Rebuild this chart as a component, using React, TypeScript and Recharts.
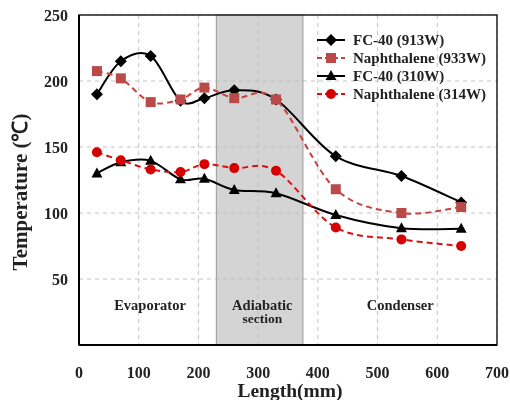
import {
  LineChart,
  Line,
  XAxis,
  YAxis,
  CartesianGrid,
  ReferenceArea,
  ReferenceDot,
  Legend,
  Label,
} from "recharts";

// measurement stations along the pipe (mm)
const positions = [30, 70, 120, 170, 210, 260, 330, 430, 540, 640];

// wall temperatures (°C)
const fc40High = [190, 215, 219, 185, 187, 193, 186, 143, 128, 108];
const naph933 = [207.5, 202, 184, 186, 195, 187, 186, 118, 100, 104.5];
const fc40Low = [130, 138.5, 139.5, 125.5, 126, 117.5, 115, 98.5, 88.5, 88];
const naph314 = [146, 140, 133, 131, 137, 134, 132, 89, 80, 75];

const xTicks = [0, 100, 200, 300, 400, 500, 600, 700];
const yTicks = [50, 100, 150, 200, 250];

const adiabaticStart = 230;
const adiabaticEnd = 375;

const sections = [
  { x: 119, y: 30, lines: ["Evaporator"] },
  { x: 307, y: 30, lines: ["Adiabatic", "section"] },
  { x: 538, y: 30, lines: ["Condenser"] },
];

const data = positions.map((x, i) => ({
  x,
  fc40High: fc40High[i],
  naph933: naph933[i],
  fc40Low: fc40Low[i],
  naph314: naph314[i],
}));

type Marker = "diamond" | "square" | "triangle" | "circle";

const SERIES: {
  key: string;
  name: string;
  stroke: string;
  fill: string;
  dash?: string;
  marker: Marker;
}[] = [
  { key: "fc40High", name: "FC-40 (913W)", stroke: "#000", fill: "#000", marker: "diamond" },
  { key: "naph933", name: "Naphthalene (933W)", stroke: "#c8413f", fill: "#b94a48", dash: "6 4", marker: "square" },
  { key: "fc40Low", name: "FC-40 (310W)", stroke: "#000", fill: "#000", marker: "triangle" },
  { key: "naph314", name: "Naphthalene (314W)", stroke: "#d81010", fill: "#d50000", dash: "6 4", marker: "circle" },
];

const FONT = "Liberation Serif";

// Catmull-Rom style smoothing, close to what spreadsheet "smoothed lines" give
function smoothCurve(context: any) {
  let xs: number[] = [];
  let ys: number[] = [];
  return {
    areaStart() {},
    areaEnd() {},
    lineStart() {
      xs = [];
      ys = [];
    },
    lineEnd() {
      const n = xs.length;
      if (!n) return;
      context.moveTo(xs[0], ys[0]);
      for (let i = 0; i < n - 1; i++) {
        const a = Math.max(i - 1, 0);
        const d = Math.min(i + 2, n - 1);
        context.bezierCurveTo(
          xs[i] + (xs[i + 1] - xs[a]) / 6,
          ys[i] + (ys[i + 1] - ys[a]) / 6,
          xs[i + 1] - (xs[d] - xs[i]) / 6,
          ys[i + 1] - (ys[d] - ys[i]) / 6,
          xs[i + 1],
          ys[i + 1]
        );
      }
    },
    point(x: number, y: number) {
      xs.push(+x);
      ys.push(+y);
    },
  };
}

function MarkerShape({ cx, cy, marker, fill }: { cx: number; cy: number; marker: Marker; fill: string }) {
  if (marker === "diamond") {
    const r = 6;
    return <polygon points={`${cx},${cy - r} ${cx + r},${cy} ${cx},${cy + r} ${cx - r},${cy}`} fill={fill} />;
  }
  if (marker === "square") {
    return <rect x={cx - 5} y={cy - 5} width={10} height={10} fill={fill} />;
  }
  if (marker === "triangle") {
    return <polygon points={`${cx},${cy - 6} ${cx + 5.5},${cy + 4} ${cx - 5.5},${cy + 4}`} fill={fill} />;
  }
  return <circle cx={cx} cy={cy} r={5} fill={fill} />;
}

function makeDot(marker: Marker, fill: string) {
  return (props: any) => {
    const { cx, cy, index } = props;
    if (cx == null || cy == null) return <g key={index} />;
    return <MarkerShape key={index} cx={cx} cy={cy} marker={marker} fill={fill} />;
  };
}

const textStyle = { fontFamily: FONT, fontWeight: 700 };

function XTick(props: any) {
  const { x, y, payload } = props;
  return (
    <text x={x} y={y} textAnchor="middle" dominantBaseline="central" style={textStyle} fontSize={16} fill="#222">
      {payload.value}
    </text>
  );
}

function YTick(props: any) {
  const { x, y, payload } = props;
  return (
    <text x={x} y={y} textAnchor="end" dominantBaseline="central" style={textStyle} fontSize={16} fill="#222">
      {payload.value}
    </text>
  );
}

// first line sits on the anchor point, further lines stack below it
function SectionLabel(lines: string[]) {
  return (props: any) => {
    const { viewBox } = props;
    const cx = viewBox.x + (viewBox.width ?? 0) / 2;
    const cy = viewBox.y + (viewBox.height ?? 0) / 2;
    const step = 12.5;
    return (
      <text textAnchor="middle" dominantBaseline="central" style={textStyle} fontSize={14.5} fill="#222">
        {lines.map((t, i) => (
          <tspan key={t} x={cx} y={cy + i * step} fontSize={i > 0 ? 13.5 : 14.5}>
            {t}
          </tspan>
        ))}
      </text>
    );
  };
}

function LegendBox() {
  return (
    <div style={{ fontFamily: FONT, fontWeight: 700, fontSize: 15, color: "#222" }}>
      {SERIES.map((s) => (
        <div key={s.key} style={{ display: "flex", alignItems: "center", height: 18 }}>
          <svg width={30} height={14} style={{ marginRight: 7 }}>
            <line x1={1} y1={7} x2={29} y2={7} stroke={s.stroke} strokeWidth={2} strokeDasharray={s.dash ? "5 3" : undefined} />
            <MarkerShape cx={15} cy={7} marker={s.marker} fill={s.fill} />
          </svg>
          <span>{s.name}</span>
        </div>
      ))}
    </div>
  );
}

export default function App() {
  return (
    <div style={{ position: "fixed", left: 8, top: 8 }}>
      <LineChart
        width={502}
        height={392}
        data={data}
        margin={{ top: 7, right: 13, bottom: 0, left: 0 }}
      >
        <ReferenceArea
          x1={adiabaticStart}
          x2={adiabaticEnd}
          y1={0}
          y2={250}
          fill="#b8b8b8"
          fillOpacity={0.6}
          stroke="#9a9a9a"
          strokeWidth={1}
          ifOverflow="visible"
        />
        <CartesianGrid strokeDasharray="4 4" stroke="#c4c4c4" strokeWidth={1} />
        <XAxis
          dataKey="x"
          type="number"
          domain={[0, 700]}
          ticks={xTicks}
          interval={0}
          height={55}
          axisLine={{ stroke: "#000", strokeWidth: 2 }}
          tickLine={false}
          tickSize={0}
          tickMargin={27}
          tick={<XTick />}
        >
          <Label
            content={() => (
              <text x={282} y={382} textAnchor="middle" dominantBaseline="central" style={textStyle} fontSize={19.5} fill="#222">
                Length(mm)
              </text>
            )}
          />
        </XAxis>
        <YAxis
          type="number"
          domain={[0, 250]}
          ticks={yTicks}
          interval={0}
          width={71}
          axisLine={{ stroke: "#000", strokeWidth: 2 }}
          tickLine={false}
          tickSize={0}
          tickMargin={11}
          tick={<YTick />}
        >
          <Label
            content={() => (
              <text
                x={12}
                y={184}
                transform="rotate(-90 12 184)"
                textAnchor="middle"
                dominantBaseline="central"
                style={textStyle}
                fontSize={21}
                fill="#222"
              >
                Temperature (℃)
              </text>
            )}
          />
        </YAxis>
        <ReferenceArea x1={0} x2={700} y1={0} y2={250} fill="none" stroke="#222" strokeWidth={1.5} />
        {sections.map((s) => (
          <ReferenceDot key={s.lines[0]} x={s.x} y={s.y} r={0} fill="none" stroke="none" label={SectionLabel(s.lines)} />
        ))}
        {SERIES.map((s) => (
          <Line
            key={s.key}
            dataKey={s.key}
            name={s.name}
            type={smoothCurve as any}
            stroke={s.stroke}
            strokeWidth={2}
            strokeDasharray={s.dash}
            dot={makeDot(s.marker, s.fill)}
            activeDot={false}
            isAnimationActive={false}
          />
        ))}
        <Legend
          layout="vertical"
          align="center"
          verticalAlign="middle"
          content={() => <LegendBox />}
          wrapperStyle={{ top: 23, left: 308, width: 180 }}
        />
      </LineChart>
    </div>
  );
}
